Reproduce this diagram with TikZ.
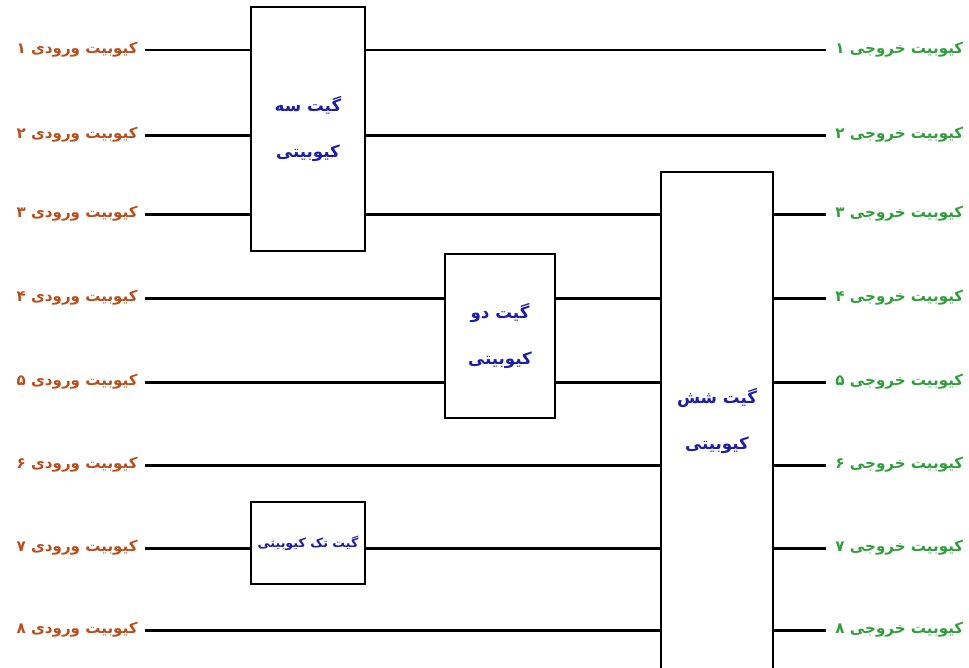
\documentclass[tikz,border=0pt]{standalone}
\usepackage{fontspec}
\usepackage{xcolor}
\TeXXeTstate=1
\newfontfamily\farsifont[Script=Arabic]{DejaVu Sans}
\definecolor{inbrown}{RGB}{185,78,28}
\definecolor{outgreen}{RGB}{48,158,58}
\definecolor{gateblue}{RGB}{28,28,168}
\tikzset{
  inlabel/.style={anchor=east, inner sep=0pt, text=inbrown, font=\farsifont\bfseries\fontsize{8.6}{10}\selectfont},
  outlabel/.style={anchor=west, inner sep=0pt, text=outgreen, font=\farsifont\bfseries\fontsize{8.6}{10}\selectfont},
  wire/.style={line width=1.7pt},
  gatebox/.style={draw, line width=1.2pt, fill=white, text=gateblue, align=center, inner sep=0pt,
    font=\farsifont\bfseries\fontsize{9.5}{26}\selectfont},
}

\begin{document}
\begin{tikzpicture}[x=0.02cm, y=-0.02cm]
      % \draw[help lines, gray!50, very thin] (0,0) grid (969,667);
      \useasboundingbox (0,0) rectangle (969,667);

      % qubit wires and their labels
      \foreach \i/\y/\d in {1/50/۱, 2/135/۲, 3/214/۳, 4/298/۴, 5/382/۵, 6/465/۶, 7/548/۷, 8/630/۸} {
        \coordinate (in\i) at (145,\y);
        \coordinate (out\i) at (826,\y);
        \node[inlabel] (inlab\i) at (138,\y) {\beginR کیوبیت ورودی \d\endR};
        \node[outlabel] (outlab\i) at (835,\y) {\beginR کیوبیت خروجی \d\endR};
        \draw[wire] (in\i) -- (out\i);
      }

      % gates drawn over the wires
      \node[gatebox, minimum width=2.28cm, minimum height=4.88cm] (gatethree) at (308,129)
        {\beginR گیت سه\endR\\\beginR کیوبیتی\endR};
      \node[gatebox, minimum width=2.2cm, minimum height=3.28cm] (gatetwo) at (500,336)
        {\beginR گیت دو\endR\\\beginR کیوبیتی\endR};
      \node[gatebox, minimum width=2.24cm, minimum height=9.96cm] (gatesix) at (717,421)
        {\beginR گیت شش\endR\\\beginR کیوبیتی\endR};
      \node[gatebox, minimum width=2.28cm, minimum height=1.64cm, font=\farsifont\bfseries\fontsize{7.2}{9}\selectfont] (gateone) at (308,543)
        {\beginR گیت تک کیوبیتی\endR};
    \end{tikzpicture}
\end{document}
